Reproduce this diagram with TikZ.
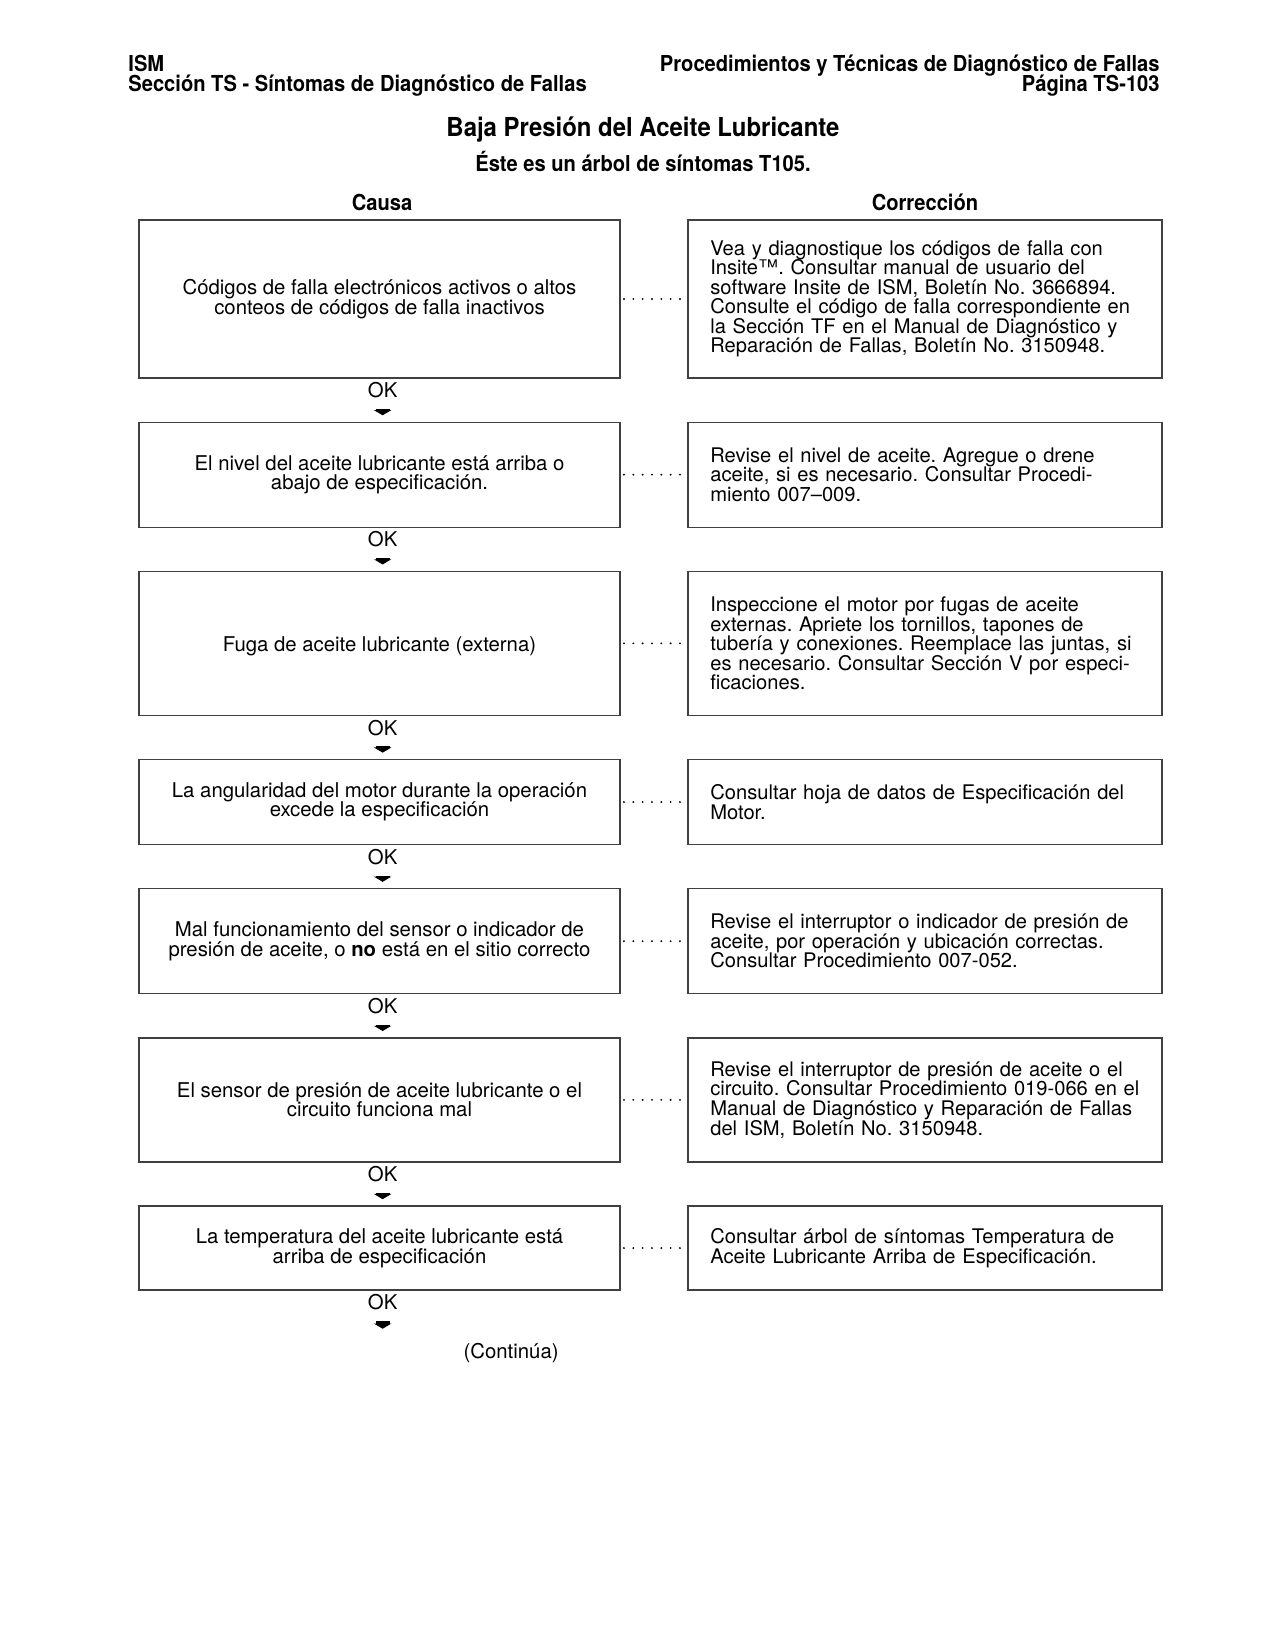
\documentclass[tikz,border=0pt]{standalone}
\usepackage{fontspec}
\setmainfont{TeX Gyre Heros}
\newfontfamily\headfont[FakeStretch=0.915]{TeX Gyre Heros}
\usetikzlibrary{positioning,arrows.meta}

\begin{document}
\begin{tikzpicture}[x=0.48bp, y=-0.48bp,
    head/.style={font=\headfont\bfseries\fontsize{10.6}{11}\selectfont, inner sep=0pt},
    ttl/.style={font=\headfont\bfseries\fontsize{12.6}{13}\selectfont, inner sep=0pt},
    cause/.style={rectangle, draw=black!75, line width=0.6bp, outer sep=0pt, minimum width=230.88bp, align=center, inner sep=0pt,
        font=\fontsize{9.8}{9.4}\selectfont, execute at begin node={\setlength{\lineskiplimit}{-10pt}\frenchspacing}},
    fix/.style={rectangle, draw=black!75, line width=0.6bp, outer sep=0pt, minimum width=227.52bp, text width=206bp, align=left, inner sep=0pt,
        font=\fontsize{9.7}{9.4}\selectfont, execute at begin node={\setlength{\lineskiplimit}{-10pt}\frenchspacing}},
    oklbl/.style={inner sep=0pt, xshift=1.5bp, font=\fontsize{9.8}{9.4}\selectfont},
    okarrow/.style={line width=6.6bp, -{Triangle[width=8.3bp,length=2.5bp]}, shorten <=5bp, shorten >=3.3bp},
    link/.style={line width=1bp, line cap=round, dash pattern=on 0pt off 4.48bp, shorten <=1.9bp, shorten >=1bp}]

    \useasboundingbox (0,0) rectangle (1275,1650);

    % Kopf
    \node[head, anchor=base west] (ism) at (128,71) {ISM};
    \node[head, anchor=base west] (sec) at (128,91) {Sección TS - Síntomas de Diagnóstico de Fallas};
    \node[head, anchor=base east] (proc) at (1160,71) {Procedimientos y Técnicas de Diagnóstico de Fallas};
    \node[head, anchor=base east] (pag) at (1160,91) {Página TS-103};
    \node[ttl, anchor=base] (title) at (643,136.5) {Baja Presión del Aceite Lubricante};
    \node[head, anchor=base] (sub) at (643,171) {Éste es un árbol de síntomas T105.};
    \node[head, anchor=base] (causa) at (382,210) {Causa};
    \node[head, anchor=base] (corr) at (925,210) {Corrección};

    % Causas
    \node[cause, anchor=north, minimum height=75.84bp] (c1) at (379.5,220) {Códigos de falla electrónicos activos o altos\\conteos de códigos de falla inactivos};
    \node[cause, below=21.2bp of c1, minimum height=50.4bp] (c2) {El nivel del aceite lubricante está arriba o\\abajo de especificación.};
    \node[cause, below=21.2bp of c2, minimum height=69.12bp] (c3) {\rule{0pt}{10bp}Fuga de aceite lubricante (externa)};
    \node[cause, below=21.2bp of c3, minimum height=40.8bp] (c4) {La angularidad del motor durante la operación\\excede la especificación};
    \node[cause, below=21.2bp of c4, minimum height=50.4bp] (c5) {Mal funcionamiento del sensor o indicador de\\presión de aceite, o \textbf{no} está en el sitio correcto};
    \node[cause, below=21.2bp of c5, minimum height=59.52bp] (c6) {El sensor de presión de aceite lubricante o el\\circuito funciona mal};
    \node[cause, below=21.2bp of c6, minimum height=40.32bp] (c7) {La temperatura del aceite lubricante está\\arriba de especificación};

    % Correcciones
    \node[fix, right=32.6bp of c1, minimum height=75.84bp] (f1) {Vea y diagnostique los códigos de falla con\\Insite™. Consultar manual de usuario del\\software Insite de ISM, Boletín No. 3666894.\\Consulte el código de falla correspondiente en\\la Sección TF en el Manual de Diagnóstico y\\Reparación de Fallas, Boletín No. 3150948.};
    \node[fix, right=32.6bp of c2, minimum height=50.4bp] (f2) {Revise el nivel de aceite. Agregue o drene\\aceite, si es necesario. Consultar Procedi-\\miento 007--009.};
    \node[fix, right=32.6bp of c3, minimum height=69.12bp] (f3) {Inspeccione el motor por fugas de aceite\\externas. Apriete los tornillos, tapones de\\tubería y conexiones. Reemplace las juntas, si\\es necesario. Consultar Sección V por especi-\\ficaciones.};
    \node[fix, right=32.6bp of c4, minimum height=40.8bp] (f4) {Consultar hoja de datos de Especificación del\\Motor.};
    \node[fix, right=32.6bp of c5, minimum height=50.4bp] (f5) {Revise el interruptor o indicador de presión de\\aceite, por operación y ubicación correctas.\\Consultar Procedimiento 007-052.};
    \node[fix, right=32.6bp of c6, minimum height=59.52bp] (f6) {Revise el interruptor de presión de aceite o el\\circuito. Consultar Procedimiento 019-066 en el\\Manual de Diagnóstico y Reparación de Fallas\\del ISM, Boletín No. 3150948.};
    \node[fix, right=32.6bp of c7, minimum height=40.32bp] (f7) {Consultar árbol de síntomas Temperatura de\\Aceite Lubricante Arriba de Especificación.};

    % OK
    \node[oklbl, below=2bp of c1] (ok1) {OK};
    \node[oklbl, below=2bp of c2] (ok2) {OK};
    \node[oklbl, below=2bp of c3] (ok3) {OK};
    \node[oklbl, below=2bp of c4] (ok4) {OK};
    \node[oklbl, below=2bp of c5] (ok5) {OK};
    \node[oklbl, below=2bp of c6] (ok6) {OK};
    \node[oklbl, below=2bp of c7] (ok7) {OK};
    \coordinate[below=12bp of ok7] (end);
    \node[oklbl, anchor=base] (cont) at (508,1358) {(Continúa)};

    \draw[okarrow] (ok1) -- (ok1 |- c2.north);
    \draw[okarrow] (ok2) -- (ok2 |- c3.north);
    \draw[okarrow] (ok3) -- (ok3 |- c4.north);
    \draw[okarrow] (ok4) -- (ok4 |- c5.north);
    \draw[okarrow] (ok5) -- (ok5 |- c6.north);
    \draw[okarrow] (ok6) -- (ok6 |- c7.north);
    \draw[okarrow] (ok7) -- (end);

    \foreach \i in {1,...,7}
        \draw[link] (c\i) -- (f\i);

\end{tikzpicture}
\end{document}
